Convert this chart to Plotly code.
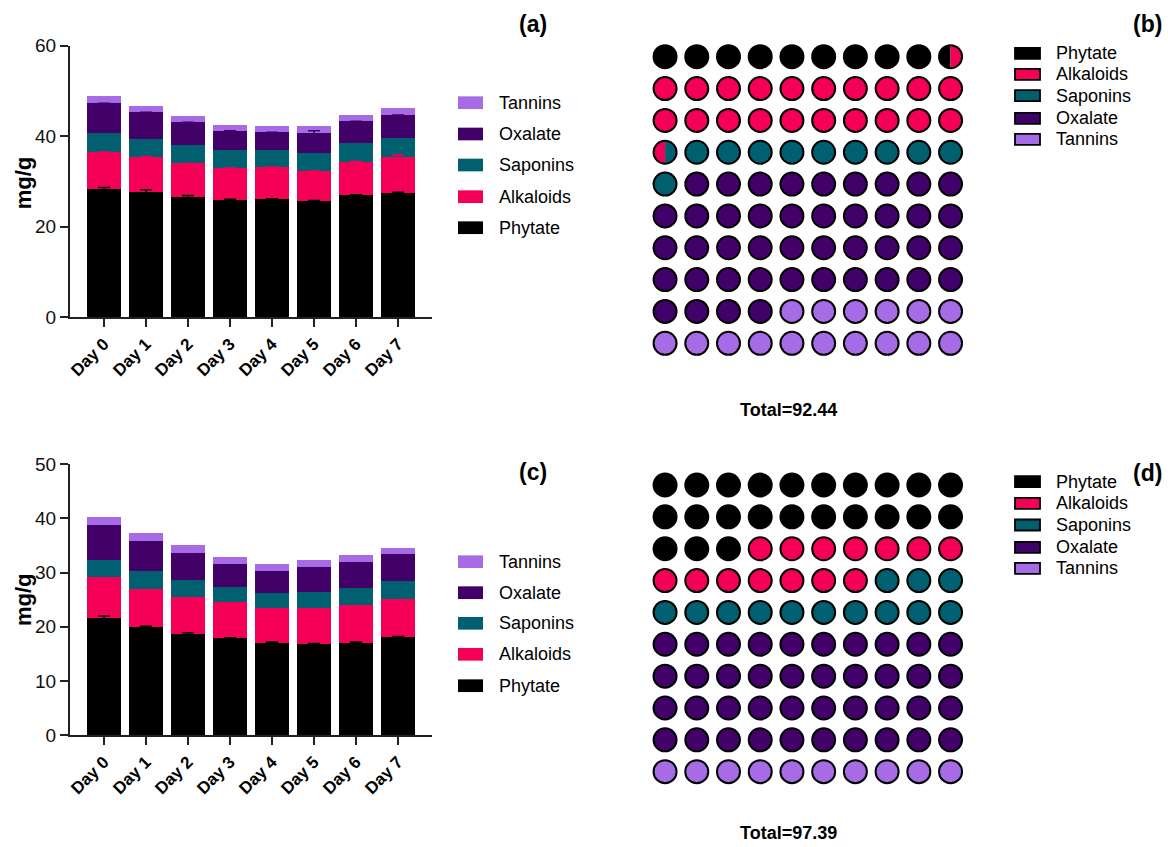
import numpy as np
import plotly.graph_objects as go

# ---------------- data ----------------
days = ["Day 0", "Day 1", "Day 2", "Day 3", "Day 4", "Day 5", "Day 6", "Day 7"]
components = ["Phytate", "Alkaloids", "Saponins", "Oxalate", "Tannins"]
colors = ["#000000", "#F50057", "#00606F", "#420069", "#A76BE6"]

# panel (a): antinutrient content (mg/g), stacked
a_phytate = [28.3, 27.7, 26.6, 26.0, 26.1, 25.7, 27.0, 27.5]
a_alkaloids = [8.2, 7.8, 7.4, 7.0, 7.1, 6.6, 7.4, 7.9]
a_saponins = [4.3, 4.0, 4.0, 4.0, 3.8, 4.1, 4.1, 4.3]
a_oxalate = [6.5, 5.8, 5.1, 4.2, 3.9, 4.3, 4.8, 5.0]
a_tannins = [1.6, 1.4, 1.4, 1.3, 1.4, 1.6, 1.4, 1.5]

a_err_phytate = [0.4, 0.5, 0.3, 0.1, 0.1, 0.1, 0.1, 0.1]
a_err_alkaloids = [0, 0, 0, 0, 0, 0, 0, 0.5]
a_err_oxalate = [0, 0, 0, 0, 0, 0.5, 0, 0]

# panel (c): antinutrient content (mg/g), stacked
c_phytate = [21.7, 20.0, 18.7, 17.9, 17.1, 16.8, 17.1, 18.1]
c_alkaloids = [7.4, 7.0, 6.8, 6.6, 6.4, 6.7, 6.9, 7.1]
c_saponins = [3.3, 3.2, 3.1, 2.9, 2.8, 3.0, 3.2, 3.2]
c_oxalate = [6.4, 5.7, 5.0, 4.2, 4.0, 4.5, 4.7, 5.1]
c_tannins = [1.4, 1.3, 1.4, 1.3, 1.3, 1.3, 1.3, 1.0]

c_err_phytate = [0.3, 0.1, 0.2, 0.1, 0.1, 0.1, 0.1, 0.1]

# waffle panels: percentage share of each component
waffle_b_pct = [9.5, 21.0, 10.5, 43.0, 16.0]
waffle_d_pct = [23.0, 14.0, 13.0, 40.0, 10.0]
total_b = "Total=92.44"
total_d = "Total=97.39"

# ---------------- layout helpers ----------------
W, H = 1168, 847
FONT = "Arial, Liberation Sans, sans-serif"
AXIS_COLOR = "#222222"


def px(x):
    return x / W


def py(y):
    return 1 - y / H


fig = go.Figure()

# axis domains (pixels -> paper)
bar_x_dom = [px(70), px(432)]
a_y_dom = [py(317.3), py(45.7)]
c_y_dom = [py(735.3), py(464.0)]
waf_x_dom = [px(647.6), px(968.0)]
b_y_dom = [py(360.8), py(39.2)]
d_y_dom = [py(789.2), py(467.5)]
WAF_RANGE = [-0.55, 9.55]


def add_stacked(series, errors, xa, ya):
    base = np.zeros(len(days))
    tops = []
    for name, vals, col in zip(components, series, colors):
        fig.add_trace(go.Bar(
            x=days, y=vals, name=name, marker=dict(color=col, line=dict(width=0)),
            xaxis=xa, yaxis=ya, showlegend=False,
        ))
        base = base + np.array(vals)
        tops.append(base.copy())
    # error bars drawn on top of the stacked segments
    for idx, err in errors:
        fig.add_trace(go.Scatter(
            x=days, y=tops[idx], mode="markers",
            marker=dict(size=1, color="rgba(0,0,0,0)"),
            error_y=dict(type="data", array=err, color=colors[idx], thickness=1.5, width=6),
            xaxis=xa, yaxis=ya, showlegend=False, hoverinfo="skip",
        ))


add_stacked([a_phytate, a_alkaloids, a_saponins, a_oxalate, a_tannins],
            [(0, a_err_phytate), (1, a_err_alkaloids), (3, a_err_oxalate)], "x", "y")
add_stacked([c_phytate, c_alkaloids, c_saponins, c_oxalate, c_tannins],
            [(0, c_err_phytate)], "x3", "y3")


def add_waffle(pcts, xa, ya, xdom, ydom):
    bounds = np.concatenate([[0], np.cumsum(pcts)])
    full = {i: ([], []) for i in range(len(components))}
    split = []
    for k in range(100):
        row, col = k // 10, k % 10
        parts = []
        for i in range(len(components)):
            ov = min(k + 1, bounds[i + 1]) - max(k, bounds[i])
            if ov > 1e-9:
                parts.append((i, ov))
        if len(parts) == 1:
            full[parts[0][0]][0].append(col)
            full[parts[0][0]][1].append(row)
        else:
            split.append((col, row, parts))

    for i in range(len(components)):
        xs, ys = full[i]
        fig.add_trace(go.Scatter(
            x=xs, y=ys, mode="markers",
            marker=dict(symbol="circle", size=23, color=colors[i], line=dict(color="#000000", width=2)),
            xaxis=xa, yaxis=ya, showlegend=False, hoverinfo="skip",
        ))

    # split cells: left part / right part as circular segments
    upx_x = (xdom[1] - xdom[0]) * W / (WAF_RANGE[1] - WAF_RANGE[0])
    upx_y = (ydom[1] - ydom[0]) * H / (WAF_RANGE[1] - WAF_RANGE[0])
    r_px = 11.6
    rx, ry = r_px / upx_x, r_px / upx_y
    for col, row, parts in split:
        (i0, f0), (i1, f1) = parts[0], parts[1]
        xb = -1 + 2 * f0
        th0 = np.arccos(np.clip(xb, -1, 1))
        left_t = np.linspace(th0, 2 * np.pi - th0, 60)
        right_t = np.linspace(-th0, th0, 60)
        for idx, t in ((i0, left_t), (i1, right_t)):
            fig.add_trace(go.Scatter(
                x=col + rx * np.cos(t), y=row + ry * np.sin(t),
                mode="lines", fill="toself", fillcolor=colors[idx],
                line=dict(width=0), xaxis=xa, yaxis=ya, showlegend=False, hoverinfo="skip",
            ))
        fig.add_trace(go.Scatter(
            x=[col], y=[row], mode="markers",
            marker=dict(symbol="circle", size=23, color="rgba(0,0,0,0)", line=dict(color="#000000", width=2)),
            xaxis=xa, yaxis=ya, showlegend=False, hoverinfo="skip",
        ))


add_waffle(waffle_b_pct, "x2", "y2", waf_x_dom, b_y_dom)
add_waffle(waffle_d_pct, "x4", "y4", waf_x_dom, d_y_dom)

# ---------------- axes ----------------
bar_x = dict(
    domain=bar_x_dom, type="category", range=[-0.81, 7.81], automargin=False,
    showline=True, linecolor=AXIS_COLOR, linewidth=2,
    ticks="outside", ticklen=8, tickwidth=2, tickcolor=AXIS_COLOR,
    tickangle=-45, tickfont=dict(family=FONT, size=17, color="#000000", weight="bold"),
    showgrid=False, zeroline=False, fixedrange=True,
)
bar_y = dict(
    showline=True, linecolor=AXIS_COLOR, linewidth=2, automargin=False,
    ticks="outside", ticklen=8, tickwidth=2, tickcolor=AXIS_COLOR,
    tickfont=dict(family=FONT, size=19, color="#111111"),
    showgrid=False, zeroline=False, fixedrange=True,
)
waf_axis = dict(visible=False, range=WAF_RANGE, showgrid=False, zeroline=False,
                fixedrange=True, automargin=False)

fig.update_layout(
    template="none",
    width=W, height=H,
    margin=dict(l=0, r=0, t=0, b=0, autoexpand=False),
    paper_bgcolor="white", plot_bgcolor="white",
    barmode="stack", bargap=0.19,
    showlegend=False,
    font=dict(family=FONT, color="#000000"),
    xaxis=dict(bar_x, anchor="y"),
    yaxis=dict(bar_y, domain=a_y_dom, range=[0, 60], tickvals=[0, 20, 40, 60], anchor="x"),
    xaxis3=dict(bar_x, anchor="y3"),
    yaxis3=dict(bar_y, domain=c_y_dom, range=[0, 50], tickvals=[0, 10, 20, 30, 40, 50], anchor="x3"),
    xaxis2=dict(waf_axis, domain=waf_x_dom, anchor="y2"),
    yaxis2=dict(waf_axis, domain=b_y_dom, range=WAF_RANGE[::-1], anchor="x2"),
    xaxis4=dict(waf_axis, domain=waf_x_dom, anchor="y4"),
    yaxis4=dict(waf_axis, domain=d_y_dom, range=WAF_RANGE[::-1], anchor="x4"),
)

# ---------------- text and legends ----------------
annotations = []
shapes = []


def label(text, x, y, size, bold=False, xanchor="center", angle=0):
    annotations.append(dict(
        text=text, x=px(x), y=py(y), xref="paper", yref="paper",
        xanchor=xanchor, yanchor="middle", showarrow=False, textangle=angle,
        font=dict(family=FONT, size=size, color="#000000", weight="bold" if bold else "normal"),
    ))


# panel letters
label("(a)", 532.7, 24, 23, bold=True)
label("(b)", 1147.5, 24, 23, bold=True)
label("(c)", 532.7, 471.7, 23, bold=True)
label("(d)", 1147.5, 473, 23, bold=True)

# y-axis titles
label("mg/g", 23, 183.3, 22, bold=True, angle=-90)
label("mg/g", 23, 600, 22, bold=True, angle=-90)

# waffle totals
label(total_b, 788.5, 410, 18, bold=True)
label(total_d, 788.5, 833, 18, bold=True)


def legend(x0, x1, text_x, ys, order, sw_h, outline):
    for y, i in zip(ys, order):
        shapes.append(dict(
            type="rect", xref="paper", yref="paper",
            x0=px(x0), x1=px(x1), y0=py(y + sw_h / 2), y1=py(y - sw_h / 2),
            fillcolor=colors[i],
            line=dict(color="#000000", width=1.8) if outline else dict(width=0),
        ))
        label(components[i], text_x, y, 18, xanchor="left")


rev = list(range(len(components)))[::-1]
fwd = list(range(len(components)))
legend(458, 483, 496.7, [102.7, 134, 165, 196.7, 227.7], rev, 12.7, False)
legend(458, 483, 496.7, [561.7, 592.7, 623.3, 654.3, 685.7], rev, 12.7, False)
legend(1015, 1040, 1054, [53.3, 74.3, 95.7, 118.3, 139.3], fwd, 11, True)
legend(1015, 1040, 1054, [481.7, 503.3, 525, 547.3, 568.3], fwd, 11, True)

fig.update_layout(annotations=annotations, shapes=shapes)

fig.write_html("out.html")
